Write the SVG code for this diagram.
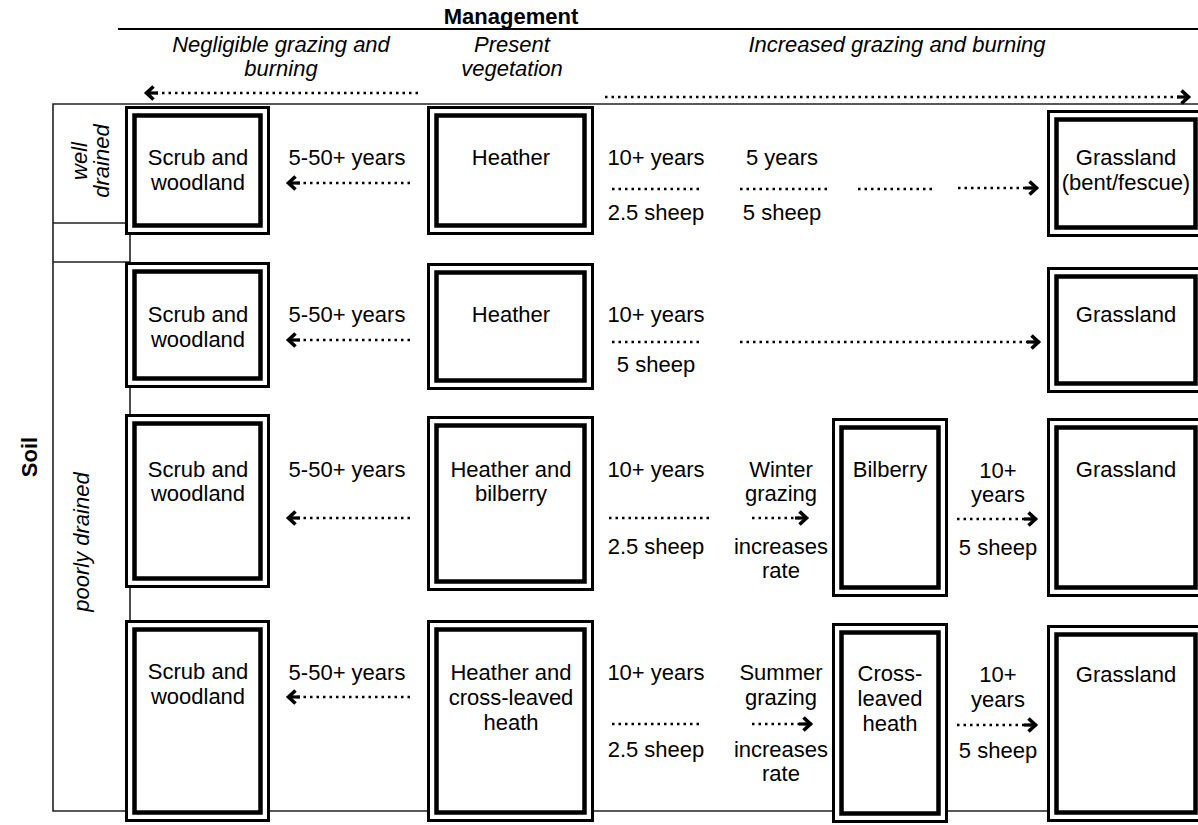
<svg xmlns="http://www.w3.org/2000/svg" width="1198" height="825" viewBox="0 0 1198 825">
<style>
text{font-family:"Liberation Sans",Arial,sans-serif;font-size:22px;fill:#000;text-anchor:middle}
.it{font-style:italic}
.bd{font-weight:bold}
.o{fill:#fff;stroke:#000;stroke-width:3}
.i{fill:none;stroke:#000;stroke-width:4.5}
.fr{stroke:#222;stroke-width:1.6;fill:none}
.dot{stroke:#000;stroke-width:2.5;stroke-dasharray:2.5 4;fill:none}
.arr{stroke:#000;stroke-width:2.5;stroke-dasharray:2.5 4;fill:none;marker-end:url(#ah)}
</style>
<defs>
<marker id="ah" markerUnits="userSpaceOnUse" viewBox="-16 -9 18 18" markerWidth="18" markerHeight="18" refX="0" refY="0" orient="auto" overflow="visible">
<path d="M-13,0 H-2" stroke="#000" stroke-width="3.2" fill="none"/>
<path d="M-8.5,-6.5 L-1.5,0 L-8.5,6.5" stroke="#000" stroke-width="3.6" fill="none" stroke-linejoin="miter"/>
</marker>
</defs>

<g id="header">
<text class="bd" x="511" y="24">Management</text>
<line x1="118" y1="29" x2="1198" y2="29" stroke="#000" stroke-width="2"/>
<text class="it" x="281" y="52">Negligible grazing and</text>
<text class="it" x="281" y="76">burning</text>
<text class="it" x="512" y="52">Present</text>
<text class="it" x="512" y="76">vegetation</text>
<text class="it" x="897" y="52">Increased grazing and burning</text>
</g>

<g id="soil-frame">
<path class="fr" d="M1198,104 H53 V811 H1198"/>
<path class="fr" d="M53,223 H125 M53,262 H130 M130,223 V811"/>
<text class="bd" transform="translate(37,457) rotate(-90)">Soil</text>
<text class="it" transform="translate(87,161) rotate(-90)">well</text>
<text class="it" transform="translate(109,161) rotate(-90)">drained</text>
<text class="it" transform="translate(89,542) rotate(-90)">poorly drained</text>
</g>

<g id="connectors">
<path class="arr" d="M418,93 H145"/>
<path class="arr" d="M605,97 H1190"/>
<path class="arr" d="M410,183 H287"/>
<path class="dot" d="M612,189 H702"/>
<path class="dot" d="M740,189 H828"/>
<path class="dot" d="M858,189 H935"/>
<path class="arr" d="M958,188 H1038"/>
<path class="arr" d="M410,340 H287"/>
<path class="dot" d="M612,342 H702"/>
<path class="arr" d="M740,342 H1040"/>
<path class="arr" d="M410,518 H287"/>
<path class="dot" d="M609,518 H713"/>
<path class="arr" d="M752,518 H808"/>
<path class="arr" d="M957,519 H1037"/>
<path class="arr" d="M410,697 H287"/>
<path class="dot" d="M612,724 H700"/>
<path class="arr" d="M752,724 H812"/>
<path class="arr" d="M957,725 H1037"/>
</g>

<g id="labels">
<text x="347" y="165">5-50+ years</text>
<text x="656" y="165">10+ years</text>
<text x="656" y="220">2.5 sheep</text>
<text x="782" y="165">5 years</text>
<text x="782" y="220">5 sheep</text>
<text x="347" y="322">5-50+ years</text>
<text x="656" y="322">10+ years</text>
<text x="656" y="372">5 sheep</text>
<text x="347" y="477">5-50+ years</text>
<text x="656" y="477">10+ years</text>
<text x="656" y="554">2.5 sheep</text>
<text x="781" y="477">Winter</text>
<text x="781" y="501">grazing</text>
<text x="781" y="554">increases</text>
<text x="781" y="578">rate</text>
<text x="998" y="478">10+</text>
<text x="998" y="502">years</text>
<text x="998" y="555">5 sheep</text>
<text x="347" y="680">5-50+ years</text>
<text x="656" y="680">10+ years</text>
<text x="656" y="757">2.5 sheep</text>
<text x="781" y="680">Summer</text>
<text x="781" y="705">grazing</text>
<text x="781" y="757">increases</text>
<text x="781" y="781">rate</text>
<text x="998" y="682">10+</text>
<text x="998" y="707">years</text>
<text x="998" y="758">5 sheep</text>
</g>

<g id="r1-scrub"><rect class="o" x="126.5" y="107.5" width="142" height="126"/><rect class="i" x="134.5" y="115.5" width="126" height="110"/><text x="198" y="165">Scrub and</text><text x="198" y="190">woodland</text></g>
<g id="r1-heather"><rect class="o" x="428.5" y="107.5" width="164" height="126"/><rect class="i" x="436.5" y="115.5" width="148" height="110"/><text x="511" y="165">Heather</text></g>
<g id="r1-grassland"><rect class="o" x="1048.5" y="111.5" width="155" height="124"/><rect class="i" x="1056.5" y="119.5" width="139" height="108"/><text x="1126" y="165">Grassland</text><text x="1126" y="190">(bent/fescue)</text></g>

<g id="r2-scrub"><rect class="o" x="126.5" y="263.5" width="142" height="123"/><rect class="i" x="134.5" y="271.5" width="126" height="107"/><text x="198" y="322">Scrub and</text><text x="198" y="347">woodland</text></g>
<g id="r2-heather"><rect class="o" x="428.5" y="264.5" width="164" height="124"/><rect class="i" x="436.5" y="272.5" width="148" height="108"/><text x="511" y="322">Heather</text></g>
<g id="r2-grassland"><rect class="o" x="1048.5" y="268.5" width="155" height="123"/><rect class="i" x="1056.5" y="276.5" width="139" height="107"/><text x="1126" y="322">Grassland</text></g>

<g id="r3-scrub"><rect class="o" x="126.5" y="415.5" width="142" height="171"/><rect class="i" x="134.5" y="423.5" width="126" height="155"/><text x="198" y="477">Scrub and</text><text x="198" y="501">woodland</text></g>
<g id="r3-heather-bilberry"><rect class="o" x="428.5" y="417.5" width="164" height="172"/><rect class="i" x="436.5" y="425.5" width="148" height="156"/><text x="511" y="477">Heather and</text><text x="511" y="501">bilberry</text></g>
<g id="r3-bilberry"><rect class="o" x="833.5" y="419.5" width="113" height="176"/><rect class="i" x="841.5" y="427.5" width="97" height="160"/><text x="890" y="477">Bilberry</text></g>
<g id="r3-grassland"><rect class="o" x="1048.5" y="419.5" width="155" height="176"/><rect class="i" x="1056.5" y="427.5" width="139" height="160"/><text x="1126" y="477">Grassland</text></g>

<g id="r4-scrub"><rect class="o" x="126.5" y="621.5" width="142" height="199"/><rect class="i" x="134.5" y="629.5" width="126" height="183"/><text x="198" y="679">Scrub and</text><text x="198" y="704">woodland</text></g>
<g id="r4-heather-heath"><rect class="o" x="428.5" y="621.5" width="164" height="199"/><rect class="i" x="436.5" y="629.5" width="148" height="183"/><text x="511" y="680">Heather and</text><text x="511" y="705">cross-leaved</text><text x="511" y="730">heath</text></g>
<g id="r4-cross-leaved"><rect class="o" x="833.5" y="624.5" width="113" height="197"/><rect class="i" x="841.5" y="632.5" width="97" height="181"/><text x="890" y="681">Cross-</text><text x="890" y="706">leaved</text><text x="890" y="731">heath</text></g>
<g id="r4-grassland"><rect class="o" x="1048.5" y="626.5" width="155" height="194"/><rect class="i" x="1056.5" y="634.5" width="139" height="178"/><text x="1126" y="682">Grassland</text></g>
</svg>
